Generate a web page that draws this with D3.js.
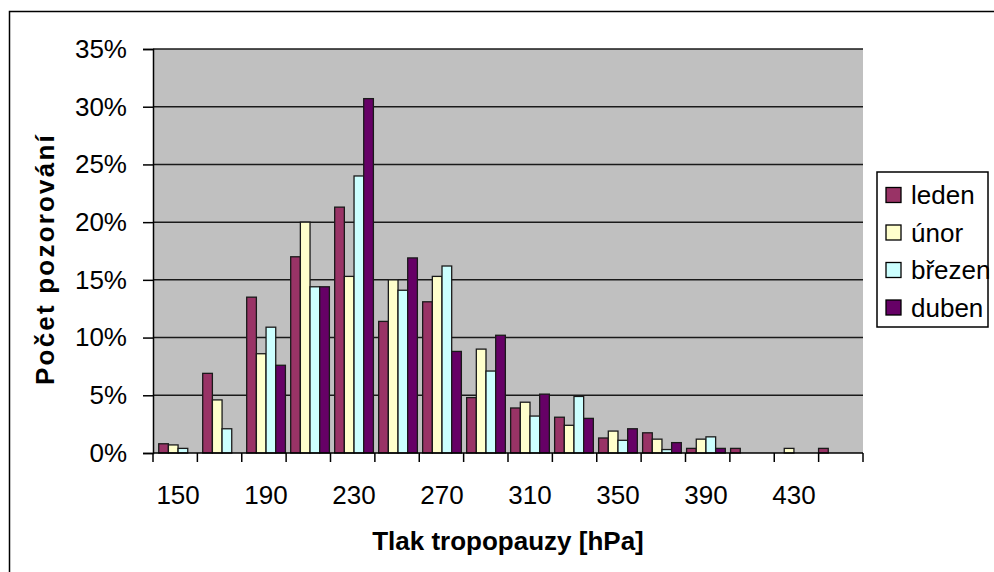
<!DOCTYPE html>
<html>
<head>
<meta charset="utf-8">
<script src="https://cdn.jsdelivr.net/npm/d3@7"></script>
<style>
  html, body { margin: 0; padding: 0; background: #fff; }
  svg { display: block; font-family: Arial, "Liberation Sans", sans-serif; }
</style>
</head>
<body>
<svg id="chart" width="994" height="572"></svg>
<script>
// Tropopause pressure classes [hPa]
const categories = [150, 170, 190, 210, 230, 250, 270, 290, 310, 330, 350, 370, 390, 410, 430, 450];
const seriesNames = ["leden", "únor", "březen", "duben"];
const seriesColors = ["#993366", "#FFFFCC", "#CCFFFF", "#660066"];

// Share of observations per class (%)
const leden  = [0.8, 6.9, 13.5, 17.0, 21.3, 11.4, 13.1, 4.8, 3.9, 3.1, 1.3, 1.75, 0.4, 0.4, 0, 0.4];
const unor   = [0.7, 4.6, 8.6, 20.0, 15.3, 15.0, 15.3, 9.0, 4.4, 2.4, 1.9, 1.2, 1.2, 0, 0.4, 0];
const brezen = [0.4, 2.1, 10.9, 14.4, 24.0, 14.1, 16.2, 7.1, 3.2, 4.9, 1.1, 0.3, 1.4, 0, 0, 0];
const duben  = [0, 0, 7.6, 14.4, 30.7, 16.9, 8.8, 10.2, 5.1, 3.0, 2.1, 0.9, 0.4, 0, 0, 0];

const yTicks = [0, 5, 10, 15, 20, 25, 30, 35];
const xTickLabels = [150, 190, 230, 270, 310, 350, 390, 430];

const series = [leden, unor, brezen, duben];

const svg = d3.select("#chart");
const plot = { left: 153, top: 49, right: 863, bottom: 453 };

// Outer chart frame
svg.append("rect")
  .attr("x", 9.5).attr("y", 11.5)
  .attr("width", 1000).attr("height", 600)
  .attr("fill", "#fff").attr("stroke", "#000").attr("stroke-width", 1.5);

const x = d3.scaleBand()
  .domain(categories)
  .range([plot.left, plot.right])
  .paddingInner(0.12)
  .paddingOuter(0.13);
const xs = d3.scaleBand()
  .domain(d3.range(series.length))
  .range([0, x.bandwidth()]);
const y = d3.scaleLinear().domain([0, 35]).range([plot.bottom, plot.top]);

// Plot background
svg.append("rect")
  .attr("x", plot.left).attr("y", plot.top)
  .attr("width", plot.right - plot.left).attr("height", plot.bottom - plot.top)
  .attr("fill", "#C0C0C0");

// Horizontal gridlines
svg.append("g")
  .selectAll("line")
  .data(yTicks.filter(d => d > 0))
  .join("line")
  .attr("x1", plot.left).attr("x2", plot.right)
  .attr("y1", d => y(d)).attr("y2", d => y(d))
  .attr("stroke", "#1a1a1a").attr("stroke-width", 1.5);

// Bars
series.forEach((vals, si) => {
  svg.append("g")
    .selectAll("rect")
    .data(categories.map((c, i) => ({ c, v: vals[i] })).filter(d => d.v > 0))
    .join("rect")
    .attr("x", d => x(d.c) + xs(si))
    .attr("y", d => y(d.v))
    .attr("width", xs.bandwidth())
    .attr("height", d => y(0) - y(d.v))
    .attr("fill", seriesColors[si])
    .attr("stroke", "#1a1a1a")
    .attr("stroke-width", 1.3);
});

// Y axis
const yAxis = d3.axisLeft(y)
  .tickValues(yTicks)
  .tickFormat(d => d + "%")
  .tickSize(10)
  .tickPadding(16);
const gy = svg.append("g")
  .attr("transform", `translate(${plot.left},0)`)
  .call(yAxis);
gy.select(".domain").attr("stroke", "#000").attr("stroke-width", 1.5);
gy.selectAll(".tick line").attr("stroke", "#000").attr("stroke-width", 1.5);
gy.selectAll(".tick text")
  .attr("font-size", 26).attr("fill", "#000")
  .attr("font-family", "Arial, 'Liberation Sans', sans-serif");

// X axis: ticks at class boundaries, labels on every other class
const boundaries = d3.range(categories.length + 1).map(i => plot.left + i * (plot.right - plot.left) / categories.length);
const gx = svg.append("g");
gx.append("line")
  .attr("x1", plot.left).attr("x2", plot.right)
  .attr("y1", plot.bottom).attr("y2", plot.bottom)
  .attr("stroke", "#000").attr("stroke-width", 1.5);
gx.selectAll("line.tk")
  .data(boundaries)
  .join("line")
  .attr("class", "tk")
  .attr("x1", d => d).attr("x2", d => d)
  .attr("y1", plot.bottom).attr("y2", plot.bottom + 9)
  .attr("stroke", "#000").attr("stroke-width", 1.5);
gx.selectAll("text")
  .data(xTickLabels)
  .join("text")
  .attr("x", d => x(d) + x.bandwidth() / 2)
  .attr("y", 504)
  .attr("text-anchor", "middle")
  .attr("font-size", 26)
  .attr("fill", "#000")
  .text(d => d);

// Axis titles
svg.append("text")
  .attr("x", (plot.left + plot.right) / 2)
  .attr("y", 550)
  .attr("text-anchor", "middle")
  .attr("font-size", 26)
  .attr("font-weight", "bold")
  .text("Tlak tropopauzy [hPa]");

svg.append("text")
  .attr("transform", `translate(54,259) rotate(-90)`)
  .attr("text-anchor", "middle")
  .attr("font-size", 26)
  .attr("font-weight", "bold")
  .attr("letter-spacing", 2.2)
  .text("Počet pozorování");

// Legend
const legend = svg.append("g");
legend.append("rect")
  .attr("x", 877).attr("y", 172)
  .attr("width", 111).attr("height", 155)
  .attr("fill", "#fff").attr("stroke", "#000").attr("stroke-width", 1.5);
const items = legend.selectAll("g.item")
  .data(seriesNames)
  .join("g")
  .attr("class", "item")
  .attr("transform", (d, i) => `translate(886,${195 + i * 37.5})`);
items.append("rect")
  .attr("x", 0).attr("y", -7.5)
  .attr("width", 15).attr("height", 15)
  .attr("fill", (d, i) => seriesColors[i])
  .attr("stroke", "#000").attr("stroke-width", 1.3);
items.append("text")
  .attr("x", 25).attr("y", 9)
  .attr("font-size", 26)
  .attr("fill", "#000")
  .text(d => d);
</script>
</body>
</html>
